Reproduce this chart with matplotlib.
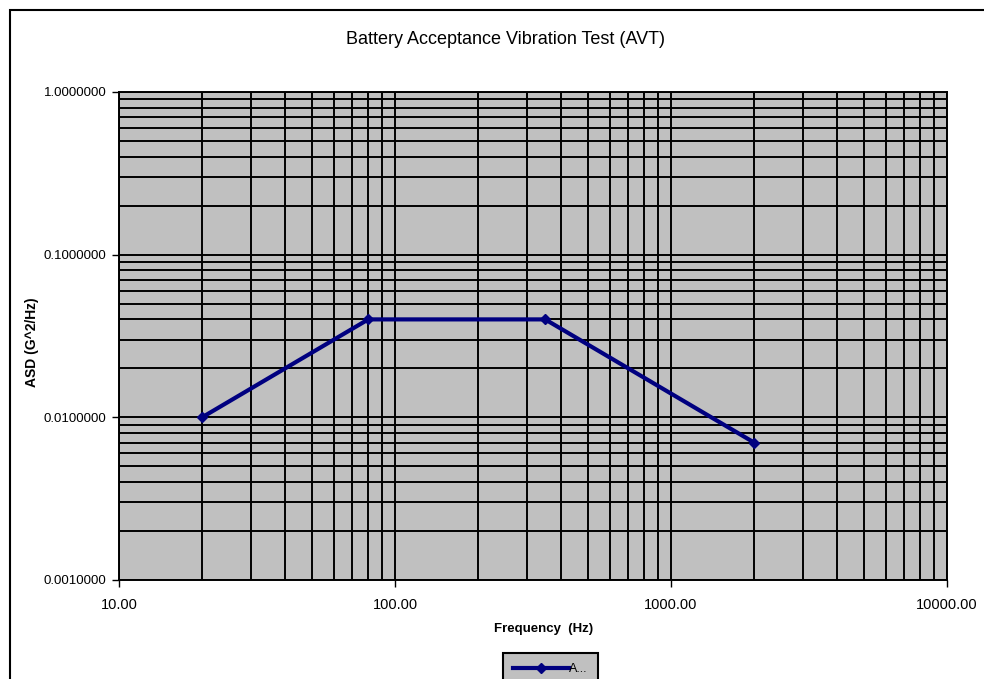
import matplotlib.pyplot as plt
from matplotlib.ticker import FixedLocator, FuncFormatter, LogLocator, NullFormatter
from matplotlib.patches import Rectangle

# AVT profile
freq = [20, 80, 350, 2000]
asd = [0.01, 0.04, 0.04, 0.007]
xticks = [10, 100, 1000, 10000]
yticks = [0.001, 0.01, 0.1, 1.0]

plt.rcParams['font.family'] = ['Liberation Sans', 'DejaVu Sans']

fig = plt.figure(figsize=(9.84, 6.79), dpi=100)
# outer chart frame (runs off the right/bottom like the screenshot)
fig.patches.append(Rectangle((10/984, -0.01), 1.0, 1 - 10/679 + 0.01, transform=fig.transFigure,
                             fill=False, edgecolor='black', linewidth=1.5))

ax = fig.add_axes([119/984, 1 - 580/679, (947 - 119)/984, (580 - 92)/679])
ax.set_facecolor('#c0c0c0')
ax.set_xscale('log')
ax.set_yscale('log')
ax.set_xlim(10, 10000)
ax.set_ylim(0.001, 1)

ax.xaxis.set_major_locator(FixedLocator(xticks))
ax.yaxis.set_major_locator(FixedLocator(yticks))
ax.xaxis.set_minor_locator(LogLocator(base=10, subs=range(2, 10)))
ax.yaxis.set_minor_locator(LogLocator(base=10, subs=range(2, 10)))
ax.xaxis.set_minor_formatter(NullFormatter())
ax.yaxis.set_minor_formatter(NullFormatter())
ax.xaxis.set_major_formatter(FuncFormatter(lambda v, p: '%.2f' % v))
ax.yaxis.set_major_formatter(FuncFormatter(lambda v, p: '%.7f' % v))

ax.grid(which='both', color='black', linewidth=1.4)
ax.set_axisbelow(True)
ax.tick_params(which='major', direction='out', length=5, width=1, colors='black')
ax.tick_params(which='minor', length=0)
ax.tick_params(axis='x', pad=8, labelsize=10.5)
ax.tick_params(axis='y', pad=4, labelsize=9.5)
for s in ax.spines.values():
    s.set_linewidth(1.4)

ax.plot(freq, asd, color='#000080', linewidth=3, marker='D', markersize=5.5, label='A...')

fig.text(505/984, 1 - 40/679, 'Battery Acceptance Vibration Test (AVT)', ha='center', va='center', fontsize=13)
fig.text(544/984, 1 - 629/679, 'Frequency  (Hz)', ha='center', va='center', fontsize=9.5, fontweight='bold')
fig.text(32/984, 1 - 342/679, 'ASD (G^2/Hz)', ha='center', va='center', rotation=90, fontsize=10, fontweight='bold')

leg = ax.legend(loc='upper left', bbox_to_anchor=(503/984, 1 - 653/679), bbox_transform=fig.transFigure,
                frameon=True, fancybox=False, edgecolor='black', facecolor='#c0c0c0', framealpha=1,
                fontsize=9, handlelength=4.5, borderpad=0.8, borderaxespad=0, handletextpad=0.0)
leg.get_frame().set_linewidth(1.5)

fig.savefig('out.png', dpi=100)
